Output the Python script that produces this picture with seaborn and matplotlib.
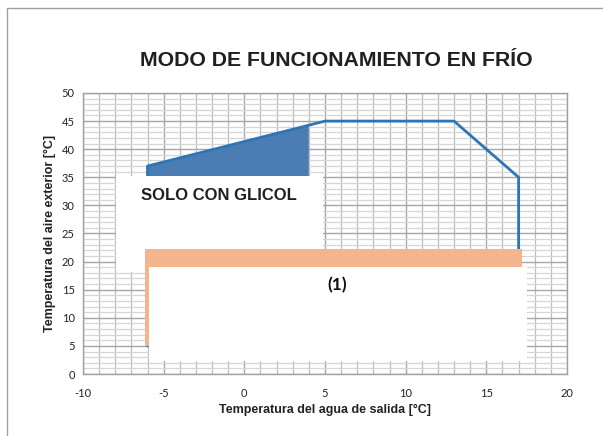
import numpy as np
import pandas as pd
import matplotlib
matplotlib.use("Agg")
import matplotlib.pyplot as plt
import seaborn as sns
from matplotlib.patches import Rectangle, Polygon

# límites de funcionamiento (agua de salida, aire exterior)
agua = [-6, -6, 5, 13, 17, 17]
aire = [5, 37, 45, 45, 35, 22]

# zona sólo con glicol (relleno azul)
glicol_x = [-6, 4, 4, -6]
glicol_y = [37, 44.3, 35, 35]

# banda naranja y cajas blancas (x0, y0, x1, y1)
banda = (-6.15, 5, 17.2, 22.2)
caja_glicol = (-7.95, 18.2, 4.9, 35.3)
caja_nota = (-5.9, 2.3, 17.5, 19.1)

x_ticks = [-10, -5, 0, 5, 10, 15, 20]
y_ticks = [0, 5, 10, 15, 20, 25, 30, 35, 40, 45, 50]

sns.set_theme(style="white")
plt.rcParams['font.family'] = ['Liberation Sans', 'DejaVu Sans']
plt.rcParams['axes.unicode_minus'] = False

fig = plt.figure(figsize=(6.03, 4.36), dpi=100)
ax = fig.add_axes([0.1376, 0.1422, 0.8027, 0.6445])

# borde exterior del gráfico
fig.patches.append(Rectangle((7 / 603, -0.1), 1.2, 1 - 8 / 436 + 0.1,
                             transform=fig.transFigure, fill=False,
                             edgecolor='#a0a0a0', linewidth=1.0))

ax.set_xlim(-10, 20)
ax.set_ylim(0, 50)
ax.set_xticks(x_ticks)
ax.set_yticks(y_ticks)
ax.set_xticks(np.arange(-10, 21, 1), minor=True)
ax.set_yticks(np.arange(0, 51, 1), minor=True)
ax.grid(True, which='major', axis='both', color='#a6a6a6', linewidth=1.0)
ax.grid(True, which='minor', axis='x', color='#bdbdbd', linewidth=0.9)
ax.grid(True, which='minor', axis='y', color='#d6d6d6', linewidth=0.9)
ax.set_axisbelow(True)
ax.tick_params(which='both', length=0)
ax.tick_params(labelsize=8, colors='#222222')
ax.tick_params(axis='x', pad=10)
ax.tick_params(axis='y', pad=6)
for s in ax.spines.values():
    s.set_color('#a0a0a0')
    s.set_linewidth(1.0)

ax.add_patch(Polygon(list(zip(glicol_x, glicol_y)), closed=True,
                     facecolor='#4a7db4', edgecolor='none', zorder=2))

df = pd.DataFrame({'agua': agua, 'aire': aire})
sns.lineplot(data=df, x='agua', y='aire', sort=False, estimator=None,
             color='#2e75b6', linewidth=2.0, ax=ax, zorder=3)

def rect(c, color, z):
    ax.add_patch(Rectangle((c[0], c[1]), c[2] - c[0], c[3] - c[1],
                           facecolor=color, edgecolor='none', zorder=z))

rect(caja_glicol, 'white', 4)
rect(banda, '#f4b48f', 5)
rect(caja_nota, 'white', 6)

ax.text(-1.6, 31.7, 'SOLO CON GLICOL', fontsize=12, fontweight='bold',
        color='#231f20', ha='center', va='center', zorder=7)
ax.text(5.75, 15.9, '(1)', fontsize=12.5, fontweight='bold', color='#111111',
        family=['Lato', 'DejaVu Sans'], ha='center', va='center', zorder=7)

ax.set_xlabel('Temperatura del agua de salida [°C]', fontsize=9,
              fontweight='bold', color='#222222', labelpad=4)
ax.set_ylabel('Temperatura del aire exterior [°C]', fontsize=9,
              fontweight='bold', color='#222222', labelpad=4)
for lab in ax.get_xticklabels() + ax.get_yticklabels():
    lab.set_fontfamily(['Lato', 'DejaVu Sans'])

fig.text(336 / 603, 1 - 61 / 436, 'MODO DE FUNCIONAMIENTO EN FRÍO',
         fontsize=15.3, fontweight='bold', color='#231f20',
         ha='center', va='center')

fig.savefig('out.png', dpi=100, facecolor='white')
